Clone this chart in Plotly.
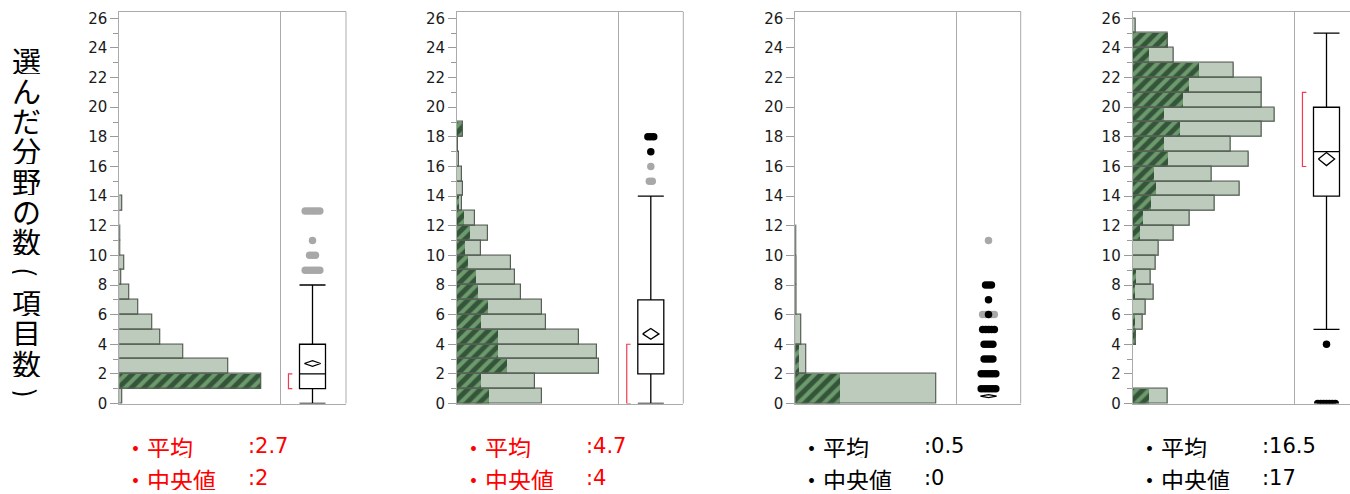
import plotly.graph_objects as go

W, H = 1350, 494

# ---- histogram data: lower edge of each class, frequency of all answers, frequency of the highlighted group
bins1 = list(range(0, 14))
total1 = [2.5, 142, 109, 64, 41, 33, 18.5, 10, 2, 4.5, 1, 1, 0, 3]
sel1 = [0, 142, 0, 0, 0, 0, 0, 0, 0, 0, 0, 0, 0, 0]

bins2 = list(range(0, 19))
total2 = [85, 78, 142, 140, 122, 89, 85, 64, 58, 54, 24, 31, 18, 5, 5.5, 4.5, 2, 1, 6]
sel2 = [32, 24, 50, 41, 41, 24, 31, 21, 19, 11, 8, 13, 7, 1.5, 0, 0, 0, 0, 4.5]

bins3 = [0, 2, 4, 6, 8, 10]
total3 = [141, 11, 5.5, 1.2, 1.2, 0.5]
sel3 = [45, 3.5, 0, 0, 0, 0]

bins4 = list(range(0, 26))
total4 = [35, 0, 0, 0, 3, 9.5, 12.5, 21, 18, 22.5, 25.5, 41, 56.5, 82, 106.5, 79,
          116, 97.5, 129, 141.5, 129, 129, 100.5, 41, 35, 2.5]
sel4 = [15.5, 0, 0, 0, 2.5, 2, 0, 2, 3, 0, 0, 7, 9.5, 18, 23, 21,
        35, 31, 46.5, 31, 49.5, 56, 66, 16, 35, 0]

bin_width = [1, 1, 2, 1]

# ---- box plot summaries
q1 = [1, 2, 0, 14]
median = [2, 4, 0, 17]
q3 = [4, 7, 0, 20]
lower_fence = [0, 0, 0, 5]
upper_fence = [8, 14, 0, 25]
mean = [2.7, 4.7, 0.5, 16.5]
mean_ci = [0.19, 0.36, 0.1, 0.44]
shortest_half = [(1, 2), (0, 4), None, (16, 21)]

# ---- outliers: value, number of respondents, highlighted group or not
out_val1 = [9, 10, 11, 13]
out_cnt1 = [6, 3, 1, 6]
out_sel1 = [False, False, False, False]

out_val2 = [15, 16, 17, 18]
out_cnt2 = [2, 1, 1, 3]
out_sel2 = [False, False, True, True]

out_val3 = [6, 1, 2, 3, 4, 5, 6, 7, 8, 11]
out_cnt3 = [5, 6, 6, 4, 4, 5, 1, 1, 3, 1]
out_sel3 = [False, True, True, True, True, True, True, True, True, False]

out_val4 = [0, 4]
out_cnt4 = [7, 1]
out_sel4 = [True, True]

label_color = ["#ff0000", "#ff0000", "#000000", "#000000"]
y_title = "選んだ分野の数(項目数)"
y_ticks = list(range(0, 27, 2))

panels = [
    (bins1, total1, sel1, out_val1, out_cnt1, out_sel1),
    (bins2, total2, sel2, out_val2, out_cnt2, out_sel2),
    (bins3, total3, sel3, out_val3, out_cnt3, out_sel3),
    (bins4, total4, sel4, out_val4, out_cnt4, out_sel4),
]

# ---- layout geometry (pixels)
hist_left = [119.3, 457.0, 795.3, 1132.7]
hist_right = [280.0, 618.3, 956.0, 1294.0]
box_right = [346.0, 683.3, 1020.7, 1350.0]
plot_top, plot_bottom = 11.7, 403.5
box_px_per_unit = 65.0

LIGHT = "#bccbbc"
EDGE = "#566056"
STRIPE_BG = "#35553a"
STRIPE_FG = "#6c9a6c"
FRAME = "#ababab"
TICK = "#9a9a9a"
BRACKET = "#f03a50"
GREY_PT = "#a8a8a8"

fig = go.Figure()
layout = dict(
    width=W, height=H, autosize=False, margin=dict(l=0, r=0, t=0, b=0, pad=0),
    paper_bgcolor="white", plot_bgcolor="white",
    showlegend=False, barmode="overlay", bargap=0,
)
shapes = []
annotations = []

ydom = [1 - plot_bottom / H, 1 - plot_top / H]

for i, (bins, total, sel, ov, oc, osel) in enumerate(panels):
    hx = "x" if i == 0 else f"x{2 * i + 1}"
    bx = f"x{2 * i + 2}"
    yy = "y" if i == 0 else f"y{i + 1}"
    bw = bin_width[i]
    centers = [b + bw / 2 for b in bins]

    # histogram: full bars, highlighted part, then outlines on top
    fig.add_trace(go.Bar(x=total, y=centers, width=bw, orientation="h",
                         marker=dict(color=LIGHT, line=dict(width=0)),
                         xaxis=hx, yaxis=yy, hoverinfo="skip"))
    fig.add_trace(go.Bar(x=sel, y=centers, width=bw, orientation="h",
                         marker=dict(color=STRIPE_BG, line=dict(width=0),
                                     pattern=dict(shape="/", fgcolor=STRIPE_FG,
                                                  bgcolor=STRIPE_BG, size=9,
                                                  solidity=0.45, fillmode="replace")),
                         xaxis=hx, yaxis=yy, hoverinfo="skip"))
    fig.add_trace(go.Bar(x=total, y=centers, width=bw, orientation="h",
                         marker=dict(color="rgba(0,0,0,0)", line=dict(width=1.2, color=EDGE)),
                         xaxis=hx, yaxis=yy, hoverinfo="skip"))

    # box plot
    if q3[i] > q1[i]:
        fig.add_trace(go.Box(x=[0.5], q1=[q1[i]], median=[median[i]], q3=[q3[i]],
                             lowerfence=[lower_fence[i]], upperfence=[upper_fence[i]],
                             width=0.4, whiskerwidth=1, fillcolor="white",
                             line=dict(color="black", width=1.3), boxpoints=False,
                             xaxis=bx, yaxis=yy, hoverinfo="skip"))

    # outlier points, grey first so the highlighted ones sit on top
    for want_sel in (False, True):
        px, py = [], []
        for v, n, s in zip(ov, oc, osel):
            if s != want_sel:
                continue
            for j in range(n):
                px.append(0.5 + (j - (n - 1) / 2) * 0.045)
                py.append(v)
        if px:
            fig.add_trace(go.Scatter(x=px, y=py, mode="markers",
                                     marker=dict(size=7.5, color="black" if want_sel else GREY_PT),
                                     xaxis=bx, yaxis=yy, hoverinfo="skip", cliponaxis=True))

    # mean diamond
    m, h = mean[i], mean_ci[i]
    dw = 0.125
    fig.add_trace(go.Scatter(x=[0.5 - dw, 0.5, 0.5 + dw, 0.5, 0.5 - dw],
                             y=[m, m + h, m, m - h, m], mode="lines",
                             fill="toself", fillcolor="white",
                             line=dict(color="black", width=1.3),
                             xaxis=bx, yaxis=yy, hoverinfo="skip", cliponaxis=False))

    # shortest-half bracket
    if shortest_half[i] is not None:
        lo, hi = shortest_half[i]
        fig.add_trace(go.Scatter(x=[0.19, 0.13, 0.13, 0.19], y=[lo, lo, hi, hi], mode="lines",
                                 line=dict(color=BRACKET, width=1.2),
                                 xaxis=bx, yaxis=yy, hoverinfo="skip", cliponaxis=False))

    # axes
    hkey = "xaxis" if i == 0 else f"xaxis{2 * i + 1}"
    bkey = f"xaxis{2 * i + 2}"
    ykey = "yaxis" if i == 0 else f"yaxis{i + 1}"
    hw = hist_right[i] - hist_left[i]
    bwid = box_right[i] - hist_right[i]
    common = dict(showgrid=False, zeroline=False, showticklabels=False, ticks="",
                  showline=True, mirror=True, linecolor=FRAME, linewidth=1,
                  fixedrange=True, automargin=False)
    layout[hkey] = dict(domain=[hist_left[i] / W, hist_right[i] / W], range=[0, hw],
                        anchor=yy, **common)
    layout[bkey] = dict(domain=[hist_right[i] / W, min(box_right[i] / W, 1.0)],
                        range=[0, bwid / box_px_per_unit], anchor=yy, **common)
    ycfg = dict(domain=ydom, range=[0, 26.45], anchor=hx, automargin=False,
                tickmode="array", tickvals=y_ticks, ticktext=[str(t) for t in y_ticks],
                ticks="outside", ticklen=8, tickcolor=TICK, tickwidth=1,
                tickfont=dict(family="DejaVu Sans", size=15, color="#1a1a1a"),
                showgrid=False, zeroline=False, showline=True, mirror=True,
                linecolor=FRAME, linewidth=1, fixedrange=True)
    if i != 2:
        ycfg["minor"] = dict(dtick=1, ticks="outside", ticklen=5, tickcolor=TICK, showgrid=False)
    layout[ykey] = ycfg

    # right edge of the box area
    if box_right[i] < W:
        shapes.append(dict(type="line", xref=f"{bx} domain", yref=f"{yy} domain",
                           x0=1, x1=1, y0=0, y1=1, line=dict(color=FRAME, width=1)))

    # summary text under each panel
    col = label_color[i]
    for k, (lab, val) in enumerate([("・平均", f"{mean[i]:g}"), ("・中央値", f"{median[i]:g}")]):
        yc = 1 - (446 + 32 * k) / H
        annotations.append(dict(text=lab, x=(hist_left[i] + 4) / W, y=yc,
                                xref="paper", yref="paper", xanchor="left", yanchor="middle",
                                height=23, valign="middle", borderpad=0,
                                showarrow=False,
                                font=dict(family="Noto Sans CJK JP", size=23, color=col)))
        annotations.append(dict(text=":" + val, x=(hist_left[i] + 128) / W, y=yc,
                                xref="paper", yref="paper", xanchor="left", yanchor="middle",
                                height=22, valign="middle", borderpad=0,
                                showarrow=False,
                                font=dict(family="DejaVu Sans", size=21, color=col)))

# vertical axis title: upright characters stacked, brackets turned a quarter turn
for k, ch in enumerate(y_title):
    annotations.append(dict(text=ch, x=26.5 / W, y=1 - (59.5 + 30.3 * k) / H,
                            xref="paper", yref="paper", xanchor="center", yanchor="middle",
                            height=28, valign="middle", borderpad=0,
                            showarrow=False, textangle=90 if ch in "()" else 0,
                            font=dict(family="Noto Sans CJK JP", size=29, color="black")))

layout["shapes"] = shapes
layout["annotations"] = annotations
fig.update_layout(**layout)
fig.write_html("out.html")
